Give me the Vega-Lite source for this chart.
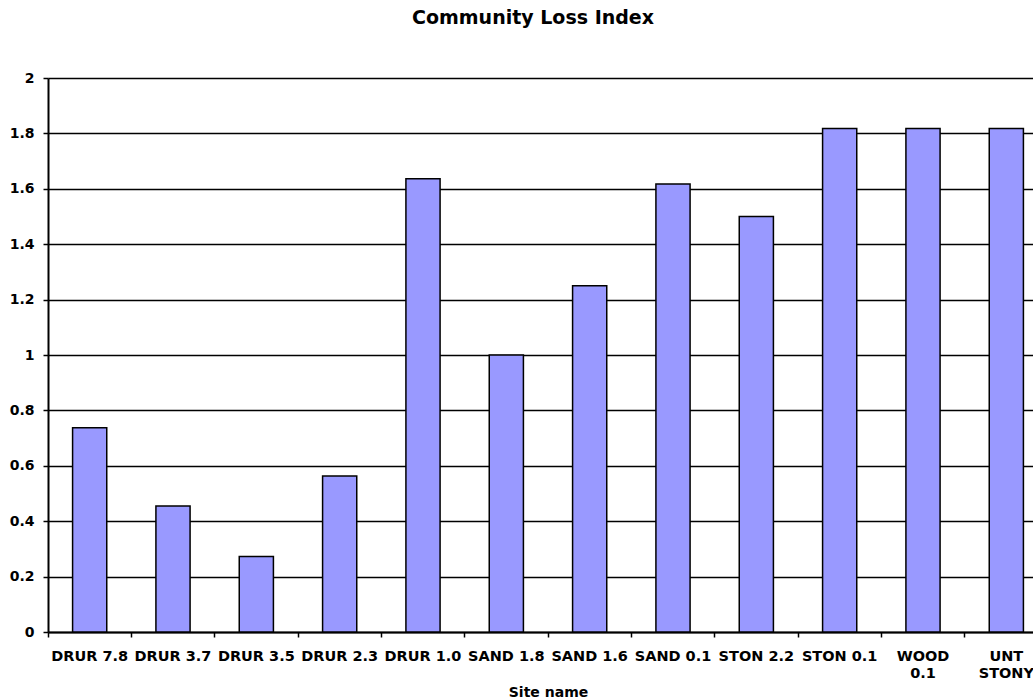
{
  "$schema": "https://vega.github.io/schema/vega-lite/v6.json",
  "autosize": "none",
  "width": 1000,
  "height": 554,
  "padding": {"left": 48, "top": 78, "right": 0, "bottom": 67},
  "background": "white",
  "title": {
    "text": "Community Loss Index",
    "font": "DejaVu Sans",
    "fontSize": 19,
    "fontWeight": "bold",
    "color": "black",
    "anchor": "middle",
    "dx": -15,
    "offset": 43
  },
  "data": {
    "values": [
      {"site": "DRUR 7.8", "value": 0.737},
      {"site": "DRUR 3.7", "value": 0.455},
      {"site": "DRUR 3.5", "value": 0.273},
      {"site": "DRUR 2.3", "value": 0.563},
      {"site": "DRUR 1.0", "value": 1.636},
      {"site": "SAND 1.8", "value": 1.0},
      {"site": "SAND 1.6", "value": 1.25},
      {"site": "SAND 0.1", "value": 1.617},
      {"site": "STON 2.2", "value": 1.5},
      {"site": "STON 0.1", "value": 1.818},
      {"site": "WOOD 0.1", "value": 1.818},
      {"site": "UNT STONY", "value": 1.818}
    ]
  },
  "mark": {"type": "bar", "color": "#9999FF", "stroke": "black", "strokeWidth": 1.5, "width": {"band": 0.41}},
  "encoding": {
    "x": {
      "field": "site",
      "type": "nominal",
      "sort": null,
      "scale": {"paddingInner": 0, "paddingOuter": 0},
      "axis": {
        "title": "Site name",
        "titleFont": "DejaVu Sans",
        "titleFontSize": 14,
        "titleFontWeight": "bold",
        "titleColor": "black",
        "titlePadding": 6,
        "labelAngle": 0,
        "labelFont": "DejaVu Sans",
        "labelFontSize": 14.5,
        "labelFontWeight": "bold",
        "labelColor": "black",
        "labelPadding": 12,
        "labelLineHeight": 17,
        "labelExpr": "datum.label == 'WOOD 0.1' ? ['WOOD', '0.1'] : datum.label == 'UNT STONY' ? ['UNT', 'STONY'] : datum.label",
        "bandPosition": 0,
        "ticks": true,
        "tickSize": 5,
        "tickColor": "black",
        "tickWidth": 1.5,
        "domainColor": "black",
        "domainWidth": 2,
        "grid": false
      }
    },
    "y": {
      "field": "value",
      "type": "quantitative",
      "scale": {"domain": [0, 2], "nice": false},
      "axis": {
        "title": null,
        "values": [0, 0.2, 0.4, 0.6, 0.8, 1, 1.2, 1.4, 1.6, 1.8, 2],
        "format": "~g",
        "labelFont": "DejaVu Sans",
        "labelFontSize": 14,
        "labelFontWeight": "bold",
        "labelColor": "black",
        "labelPadding": 9,
        "tickSize": 5,
        "tickColor": "black",
        "tickWidth": 1.5,
        "domainColor": "black",
        "domainWidth": 2,
        "grid": true,
        "gridColor": "black",
        "gridWidth": 1.5,
        "gridOpacity": 1
      }
    }
  },
  "config": {"view": {"stroke": null}}
}
